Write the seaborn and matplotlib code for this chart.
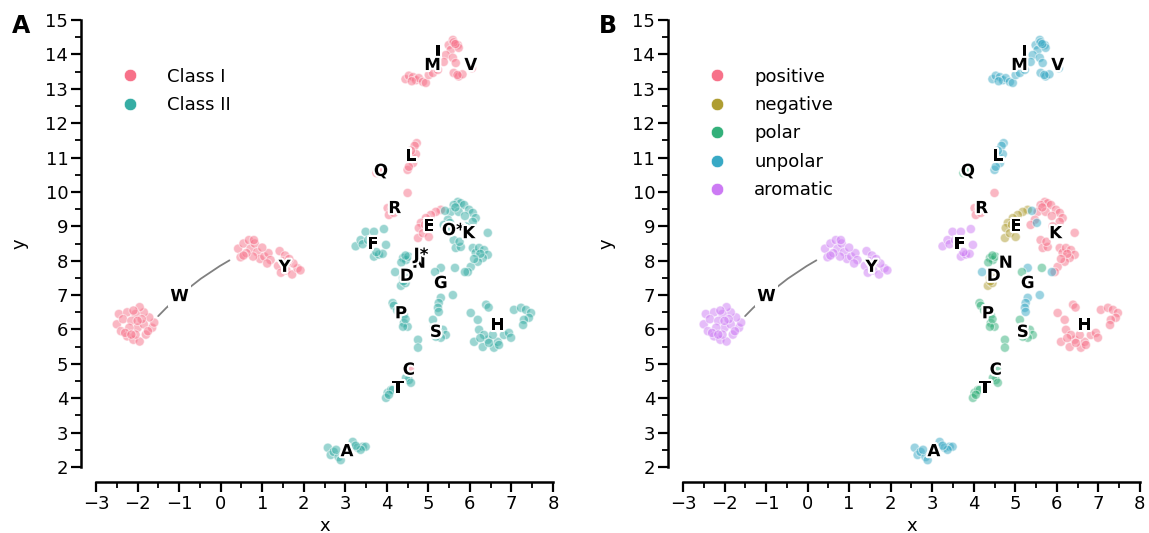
import matplotlib
matplotlib.use("Agg")
import matplotlib.pyplot as plt
import matplotlib.patheffects as pe
from matplotlib.lines import Line2D
from matplotlib.ticker import MultipleLocator
import seaborn as sns
import pandas as pd

# ---------------------------------------------------------
# DATA (read off the reference embedding)
# ---------------------------------------------------------
W_pts = [(-2.45, 6.45), (-2.25, 6.5), (-2.5, 6.15), (-2.35, 6.3), (-2.4, 5.95), (-2.25, 5.8),
         (-2.1, 5.7), (-1.95, 5.65), (-1.8, 5.85), (-1.65, 6.05), (-1.6, 6.2), (-1.72, 6.35),
         (-1.85, 6.5), (-1.95, 6.65), (-2.05, 6.45), (-2.15, 6.25), (-2.0, 6.05), (-2.2, 6.05),
         (-1.85, 6.15), (-2.05, 5.85), (-2.3, 5.9), (-1.9, 6.3), (-2.1, 6.55), (-1.75, 5.95),
         (-2.15, 5.85), (-2.0, 6.25),
         (0.42, 8.35), (0.48, 8.1), (0.55, 8.5), (0.68, 8.6), (0.72, 8.35), (0.82, 8.5),
         (0.88, 8.25), (0.95, 8.05), (1.05, 8.12), (1.15, 8.22), (1.2, 8.02), (0.78, 8.12),
         (0.62, 8.22), (1.0, 8.38), (0.55, 8.15), (1.12, 7.92), (0.8, 8.6)]
Y_pts = [(1.42, 8.28), (1.55, 8.15), (1.38, 7.85), (1.45, 7.65), (1.58, 7.72), (1.72, 7.6),
         (1.85, 7.78), (1.92, 7.72), (1.75, 7.92), (1.6, 7.95), (1.5, 7.98), (1.65, 8.05)]
F_pts = [(3.25, 8.42), (3.37, 8.6), (3.49, 8.84), (3.69, 8.84), (3.93, 8.92), (3.98, 8.46),
         (3.69, 8.12), (3.81, 8.18), (3.9, 8.2), (3.42, 8.48), (3.75, 8.25), (3.55, 8.6)]
M_pts = [(4.45, 13.28), (4.53, 13.38), (4.63, 13.34), (4.7, 13.25), (4.77, 13.31), (4.87, 13.2),
         (4.94, 13.17), (5.01, 13.4), (5.11, 13.46), (5.23, 13.55), (4.6, 13.22)]
I_pts = [(5.49, 14.27), (5.59, 14.42), (5.54, 14.13), (5.71, 14.27), (5.73, 14.19), (5.61, 14.35),
         (5.65, 14.3), (5.42, 13.98), (5.37, 13.78)]
V_pts = [(5.59, 13.9), (5.66, 13.75), (5.61, 13.46), (5.73, 13.36), (5.82, 13.42), (6.05, 13.6),
         (5.7, 13.4)]
L_pts = [(4.72, 11.42), (4.67, 11.34), (4.6, 11.02), (4.63, 10.84), (4.5, 10.64), (4.53, 10.73),
         (4.7, 11.1), (4.58, 11.2)]
Q_pts = [(3.75, 10.55), (3.82, 10.6)]
R_pts = [(4.02, 9.53), (4.05, 9.33), (4.17, 9.39), (4.5, 9.97), (4.12, 9.5)]
E_pts = [(5.3, 9.48), (5.18, 9.42), (5.06, 9.33), (4.94, 9.24), (4.82, 9.1), (4.77, 8.95),
         (4.75, 8.66), (4.87, 8.8), (5.01, 8.69), (4.92, 9.05)]
K_pts = [(5.71, 9.71), (5.78, 9.67), (5.86, 9.62), (5.61, 9.62), (5.54, 9.42), (5.73, 9.42),
         (5.98, 9.48), (6.07, 9.39), (6.14, 9.24), (6.07, 9.13), (5.47, 9.19), (5.37, 9.04),
         (5.61, 8.6), (5.66, 8.37), (5.78, 8.4), (6.07, 8.37), (6.14, 8.23), (6.22, 8.37),
         (6.34, 8.31), (6.43, 8.17), (6.31, 8.08), (6.19, 7.97), (6.43, 8.81), (6.02, 7.82),
         (5.95, 7.67), (5.88, 9.3), (5.65, 9.55), (6.25, 8.2), (5.9, 9.0), (5.75, 8.55), (6.1, 8.05)]
O_pts = [(5.55, 8.95)]
J_pts = [(4.8, 8.1)]
N_pts = [(4.39, 8.08), (4.46, 8.02), (4.35, 7.95), (4.52, 8.12), (4.45, 8.15)]
D_pts = [(4.39, 7.5), (4.34, 7.27), (4.45, 7.35), (4.47, 7.6), (4.4, 7.4)]
G_pts = [(4.2, 7.67), (5.3, 7.79), (5.88, 7.67), (5.59, 7.0), (5.3, 6.92), (5.25, 6.77),
         (5.23, 6.63), (5.25, 6.51), (5.4, 9.45), (5.52, 9.1)]
S_pts = [(5.16, 7.67), (5.64, 7.79), (5.11, 6.28), (5.13, 6.05), (5.35, 5.99), (5.42, 5.84),
         (5.3, 5.76), (5.18, 5.79), (5.25, 5.9), (4.75, 5.7), (4.75, 5.47)]
P_pts = [(4.14, 6.77), (4.17, 6.69), (4.41, 6.42), (4.41, 6.19), (4.5, 6.08), (4.39, 6.08),
         (4.25, 6.55), (4.45, 6.3)]
C_pts = [(4.55, 4.85)]
T_pts = [(4.53, 4.53), (4.46, 4.59), (4.58, 4.45), (4.02, 4.16), (3.98, 4.01), (4.1, 4.24),
         (4.14, 4.24), (4.05, 4.1)]
A_pts = [(2.58, 2.56), (2.65, 2.35), (2.72, 2.44), (2.84, 2.29), (2.89, 2.2), (3.18, 2.73),
         (3.3, 2.56), (3.42, 2.59), (3.49, 2.59), (3.37, 2.5), (2.78, 2.5), (3.25, 2.62)]
H_pts = [(6.02, 6.48), (6.19, 6.28), (6.39, 6.72), (6.45, 6.64), (6.22, 5.99), (6.1, 5.64),
         (6.31, 5.49), (6.43, 5.7), (6.58, 5.47), (6.67, 5.64), (6.82, 5.84), (6.94, 5.9),
         (6.99, 5.76), (7.06, 6.57), (7.23, 6.63), (7.35, 6.57), (7.47, 6.48), (7.42, 6.34),
         (7.3, 6.28), (7.28, 6.13), (6.55, 5.84), (6.34, 5.84), (6.46, 5.61), (6.25, 5.75),
         (6.7, 5.55)]

residue_points = {
    "W": W_pts, "Y": Y_pts, "F": F_pts, "M": M_pts, "I": I_pts, "V": V_pts, "L": L_pts,
    "Q": Q_pts, "R": R_pts, "E": E_pts, "K": K_pts, "O*": O_pts, "J*": J_pts, "N": N_pts,
    "D": D_pts, "G": G_pts, "S": S_pts, "P": P_pts, "C": C_pts, "T": T_pts, "A": A_pts,
    "H": H_pts,
}

class_one = ["R", "C", "E", "Q", "I", "L", "M", "V", "W", "Y"]
class_order = ["Class I", "Class II"]

positive = ["K", "R", "H"]
negative = ["D", "E"]
polar = ["N", "Q", "S", "T", "C", "P"]
unpolar = ["A", "V", "I", "L", "M", "G"]
aromatic = ["F", "W", "Y"]
prop_order = ["positive", "negative", "polar", "unpolar", "aromatic"]

# label anchor positions (data coords)
label_names = ["I", "M", "V", "L", "Q", "R", "E", "O*", "K", "N", "J*", "D", "F", "Y",
               "W", "G", "P", "S", "H", "C", "T", "A"]
label_x = [5.23, 5.1, 6.02, 4.58, 3.86, 4.19, 5.01, 5.6, 5.97, 4.77, 4.82, 4.48, 3.66, 1.54,
           -0.99, 5.3, 4.34, 5.18, 6.67, 4.53, 4.27, 3.04]
label_y = [14.07, 13.69, 13.69, 11.05, 10.61, 9.53, 9.01, 8.89, 8.8, 7.94, 8.17, 7.56, 8.49,
           7.82, 6.97, 7.35, 6.47, 5.93, 6.13, 4.83, 4.3, 2.46]


def prop_of(res):
    for name, members in zip(prop_order, [positive, negative, polar, unpolar, aromatic]):
        if res in members:
            return name
    return None


rows = []
for res, pts in residue_points.items():
    for x, y in pts:
        rows.append({"x": x, "y": y, "res": res,
                     "cls": "Class I" if res in class_one else "Class II",
                     "prop": prop_of(res)})
df = pd.DataFrame(rows)

# ---------------------------------------------------------
# PLOT
# ---------------------------------------------------------
sns.set_theme(style="ticks")
plt.rcParams["font.family"] = ["DejaVu Sans"]
plt.rcParams.update({"text.color": "black", "axes.labelcolor": "black",
                     "xtick.color": "black", "ytick.color": "black",
                     "axes.edgecolor": "black"})

fig = plt.figure(figsize=(11.49, 5.33), dpi=100)
ax_a = fig.add_axes([0.0836, 0.1238, 0.3977, 0.8387])
ax_b = fig.add_axes([0.5944, 0.1238, 0.3977, 0.8387])


def draw_panel(ax, hue, order, skip_labels):
    pal = sns.husl_palette(len(order))
    sub = df.dropna(subset=[hue])
    sns.scatterplot(data=sub, x="x", y="y", hue=hue, hue_order=order, palette=pal,
                    s=44, alpha=0.5, edgecolor="white", linewidth=0.8, legend=False, ax=ax)

    # connector for the split W group
    ax.annotate("", xy=(0.27, 8.05), xytext=(-1.55, 6.33),
                arrowprops=dict(arrowstyle="-", color="grey", lw=1.3,
                                connectionstyle="arc3,rad=-0.08"), zorder=3)

    for name, lx, ly in zip(label_names, label_x, label_y):
        if name in skip_labels:
            continue
        kw = {}
        if name == "W":
            kw["bbox"] = dict(facecolor="white", edgecolor="none", pad=1.5)
        t = ax.text(lx, ly, name, fontsize=12, fontweight="bold", ha="center", va="center",
                    color="black", zorder=5, **kw)
        t.set_path_effects([pe.withStroke(linewidth=3, foreground="white")])

    handles = [Line2D([], [], marker="o", linestyle="", markersize=9, color=c,
                      markeredgecolor="white", markeredgewidth=0.5) for c in pal]
    ax.legend(handles, order, loc="upper left", bbox_to_anchor=(0.0, 0.93),
              frameon=False, fontsize=13, labelspacing=0.58, handletextpad=1.05)

    ax.set_xlim(-3, 8)
    ax.set_ylim(2, 15)
    ax.xaxis.set_major_locator(MultipleLocator(1))
    ax.xaxis.set_minor_locator(MultipleLocator(0.5))
    ax.yaxis.set_major_locator(MultipleLocator(1))
    ax.yaxis.set_minor_locator(MultipleLocator(0.5))
    ax.tick_params(which="major", length=7, width=1.6, labelsize=13, pad=2)
    ax.tick_params(which="minor", length=4, width=1.3)
    for sp in ax.spines.values():
        sp.set_linewidth(1.8)
    ax.set_xlabel("x", fontsize=13, labelpad=3)
    ax.set_ylabel("y", fontsize=13, labelpad=12)
    sns.despine(ax=ax, offset=11, trim=True)


draw_panel(ax_a, "cls", class_order, [])
draw_panel(ax_b, "prop", prop_order, ["O*", "J*"])

fig.text(0.01, 0.952, "A", fontsize=17, fontweight="bold", va="center")
fig.text(0.521, 0.952, "B", fontsize=17, fontweight="bold", va="center")

plt.savefig("out.png", dpi=100)
